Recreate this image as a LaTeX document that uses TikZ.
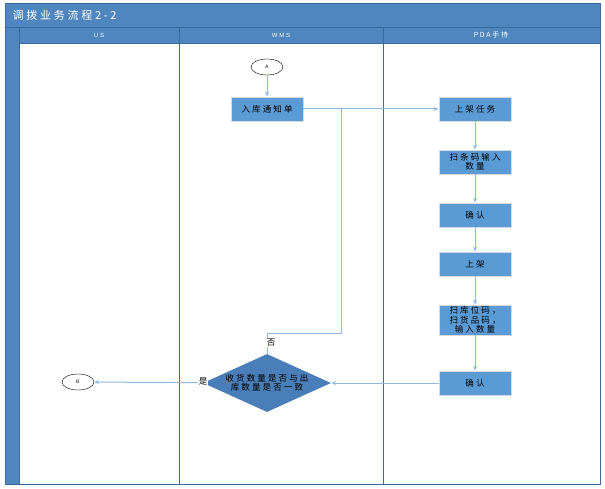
\documentclass[tikz,border=0pt]{standalone}
\usepackage{fontspec}
\setmainfont{Liberation Sans}
\newfontfamily\cjk[LetterSpace=25]{Noto Sans CJK SC}
\newfontfamily\lanefont[LetterSpace=30]{Liberation Sans}
\usetikzlibrary{arrows.meta,shapes.geometric}
\definecolor{lanebar}{HTML}{4F86BD}
\definecolor{laneline}{HTML}{3A6A9E}
\definecolor{boxfill}{HTML}{5B9BD5}
\definecolor{decfill}{HTML}{4A7EB8}
\definecolor{flowline}{HTML}{8DB9E2}
\begin{document}
\begin{tikzpicture}[x=1pt,y=-1pt,font=\cjk\fontsize{8.5}{9.5}\selectfont]
\tikzstyle{step box}=[draw=black!15,line width=0.8pt,fill=boxfill,minimum width=72pt,minimum height=24pt,inner sep=1pt,align=center]
\tikzstyle{conn}=[ellipse,draw,thin,fill=white,minimum width=32pt,minimum height=16pt,inner sep=0pt,font=\sffamily\fontsize{5}{6}\selectfont]
\tikzstyle{flow}=[flowline,line width=1pt]
\tikzstyle{arr}=[flow,-{Stealth[length=5pt,width=4pt]}]
\useasboundingbox (0,0) rectangle (605,489);
% swimlane frame
\fill[lanebar] (5,3) rectangle (600,43);
\fill[lanebar] (5,43) rectangle (19,484);
\draw[laneline,line width=0.8pt] (5,3) rectangle (600,484);
\draw[laneline,line width=0.8pt] (5,27) -- (600,27);
\draw[laneline,line width=0.8pt] (19,43) -- (600,43);
\draw[laneline,line width=0.8pt] (19,27) -- (19,484);
\draw[laneline,line width=1pt] (179,27) -- (179,484);
\draw[laneline,line width=1pt] (383,27) -- (383,484);
\node[white,anchor=west,font=\cjk\fontsize{11}{12}\selectfont] (title) at (9,15) {调拨业务流程2-2};
\node[white,font=\lanefont\fontsize{6}{7}\selectfont] (us) at (99,35) {US};
\node[white,font=\lanefont\fontsize{6}{7}\selectfont] (wms) at (281,35) {WMS};
\node[white,font=\cjk\fontsize{7}{8}\selectfont] (pda) at (491,35) {PDA手持};
% steps
\node[conn] (A) at (267,67) {A};
\node[step box] (rk) at (267,109) {入库通知单};
\node[step box] (sjrw) at (475,109) {上架任务};
\node[step box] (stm) at (475,162) {扫条码输入\\数量};
\node[step box] (qr1) at (475,215) {确认};
\node[step box] (sj) at (475,264) {上架};
\node[step box,minimum height=30pt] (skw) at (475,320) {扫库位码，\\扫货品码，\\输入数量};
\node[step box] (qr2) at (475,383) {确认};
\node[diamond,fill=decfill,minimum width=128pt,minimum height=58pt,aspect=2.2,inner sep=0pt,align=center] (pd) at (267,383) {收货数量是否与出\\库数量是否一致};
\node[conn] (B) at (78,382) {B};
\coordinate (j) at (341,109);
\coordinate (k) at (341,333);
% connectors
\draw[arr] (A) -- (rk);
\draw[arr] (rk) -- (sjrw);
\draw[arr] (sjrw) -- (stm);
\draw[arr] (stm) -- (qr1);
\draw[arr] (qr1) -- (sj);
\draw[arr] (sj) -- (skw);
\draw[arr] (skw) -- (qr2);
\draw[arr] (qr2) -- (pd);
\draw[arr] (pd) -- (B);
\draw[flow] (j) -- (k) -| (pd.north);
\node[fill=white,inner sep=0.5pt] (no) at (271,343) {否};
\node[fill=white,inner sep=0.5pt] (yes) at (203,381) {是};
\end{tikzpicture}
\end{document}
